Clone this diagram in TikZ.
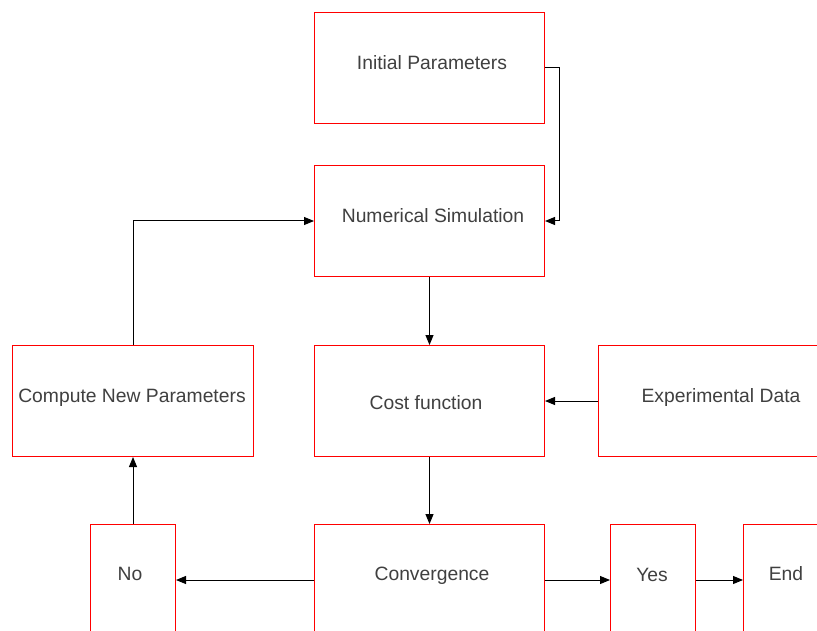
\documentclass[tikz,border=0pt]{standalone}
\usepackage{fontspec}
\setmainfont{Liberation Sans}
\usetikzlibrary{arrows.meta}
\definecolor{labelgray}{RGB}{64,64,64}
\begin{document}
\begin{tikzpicture}[x=1pt,y=-1pt,
  box/.style={draw=red, line width=1pt, rectangle, anchor=north west, inner sep=0pt},
  lbl/.style={text=labelgray, font=\fontsize{19.3}{23}\selectfont, anchor=base, inner sep=0pt},
  arr/.style={draw=black, line width=1pt, -{Triangle[length=10pt,width=8pt]}}]
\useasboundingbox (0,0) rectangle (817,631);
\clip (0,0) rectangle (817,631);
\fill[white] (0,0) rectangle (817,631);

% boxes
\node[box, minimum width=230, minimum height=111] (init) at (314,12) {};
\node[box, minimum width=230, minimum height=111] (sim) at (314,165) {};
\node[box, minimum width=230, minimum height=111] (cost) at (314,345) {};
\node[box, minimum width=246, minimum height=111] (exp) at (598,345) {};
\node[box, minimum width=241, minimum height=111] (comp) at (12,345) {};
\node[box, minimum width=230, minimum height=111] (conv) at (314,524) {};
\node[box, minimum width=85, minimum height=111] (no) at (90,524) {};
\node[box, minimum width=85, minimum height=111] (yes) at (610,524) {};
\node[box, minimum width=85, minimum height=111] (end) at (743,524) {};

% labels
\node[lbl] (initT) at (432,69.5) {Initial Parameters};
\node[lbl] (simT) at (433,222.5) {Numerical Simulation};
\node[lbl] (costT) at (426,409) {Cost function};
\node[lbl] (expT) at (721,402.5) {Experimental Data};
\node[lbl] (compT) at (132,402.5) {Compute New Parameters};
\node[lbl] (convT) at (432,580) {Convergence};
\node[lbl] (noT) at (130,580) {No};
\node[lbl] (yesT) at (652,581) {Yes};
\node[lbl] (endT) at (786,580.5) {End};

% connectors
\draw[arr] (init.east) -- ++(14,0) |- (sim.east);
\draw[arr] (sim.south) -- (cost.north);
\draw[arr] (exp.west) -- (cost.east);
\draw[arr] (comp.north) |- (sim.west);
\draw[arr] (cost.south) -- (conv.north);
\draw[arr] (conv.west) -- (no.east);
\draw[arr] (no.north) -- (comp.south);
\draw[arr] (conv.east) -- (yes.west);
\draw[arr] (yes.east) -- (end.west);
\end{tikzpicture}
\end{document}
